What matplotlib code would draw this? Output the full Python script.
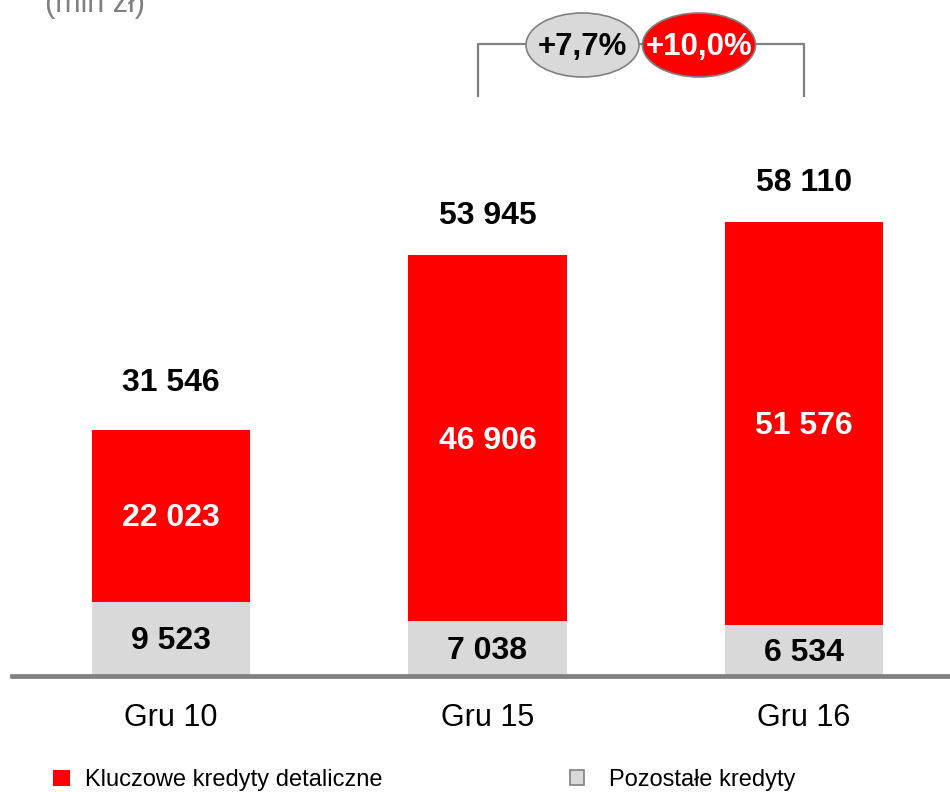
import matplotlib
matplotlib.use("Agg")
import matplotlib.pyplot as plt
from matplotlib.patches import Ellipse, Rectangle

categories = ["Gru 10", "Gru 15", "Gru 16"]
otherLoans = [9523, 7038, 6534]
keyRetailLoans = [22023, 46906, 51576]
totals = [31546, 53945, 58110]
growthLabels = ["+7,7%", "+10,0%"]
legendLabels = ["Kluczowe kredyty detaliczne", "Pozostałe kredyty"]
unitLabel = "(mln zł)"

RED = "#FF0000"
GREY = "#D9D9D9"
LINE_GREY = "#808080"


def fmt(value):
    return "{:,}".format(value).replace(",", " ")


def plotLoans():
    matplotlib.rc("font", family=["Liberation Sans", "DejaVu Sans"])

    fig = plt.figure(figsize=(9.5, 7.92), dpi=100)
    ax = fig.add_axes([0, 116 / 792, 1, 676 / 792])
    ax.set_xlim(-171 / 316.5, (950 - 171) / 316.5)
    ax.set_ylim(0, 676 * 128.1)
    ax.axis("off")

    x = list(range(len(categories)))
    ax.bar(x, otherLoans, width=0.5, color=GREY, zorder=2)
    ax.bar(x, keyRetailLoans, width=0.5, bottom=otherLoans, color=RED, zorder=2)
    ax.axhline(0, xmin=12 / 950, xmax=1, color=LINE_GREY, linewidth=3.4,
               zorder=3, clip_on=False)

    # total labels sit a bit higher over the first bar
    totalOffsets = [34, 28, 28]

    for i in x:
        ax.annotate(fmt(otherLoans[i]), xy=(i, otherLoans[i] / 2), xytext=(0, -1.5),
                    textcoords="offset points", ha="center", va="center",
                    fontsize=23, fontweight="bold", color="black", zorder=4)
        ax.annotate(fmt(keyRetailLoans[i]), xy=(i, otherLoans[i] + keyRetailLoans[i] / 2),
                    xytext=(0, -2), textcoords="offset points", ha="center",
                    va="center", fontsize=23, fontweight="bold", color="white",
                    zorder=4)
        ax.annotate(fmt(totals[i]), xy=(i, totals[i]), xytext=(0, totalOffsets[i]),
                    textcoords="offset points", ha="center", va="center",
                    fontsize=23, fontweight="bold", color="black")
        ax.annotate(categories[i], xy=(i, 0), xytext=(0, -30),
                    textcoords="offset points", ha="center", va="center",
                    fontsize=22, color="black", annotation_clip=False)

    # growth bracket
    yTop = (676 - 44) * 128.1
    yLow = (676 - 96) * 128.1
    xLeft = 1 - 10 / 316.5
    xRight = 2
    ax.plot([xLeft, xLeft, xRight, xRight], [yLow, yTop, yTop, yLow],
            color=LINE_GREY, linewidth=1.6, zorder=1)
    mid = (xLeft + xRight) / 2
    ellW = 113 / 316.5
    ellH = 64 * 128.1
    yEll = (676 - 45) * 128.1
    for offset, face, txtColor, label in [(-0.184, GREY, "black", growthLabels[0]),
                                          (0.184, RED, "white", growthLabels[1])]:
        ax.add_patch(Ellipse((mid + offset, yEll), ellW, ellH, facecolor=face,
                             edgecolor=LINE_GREY, linewidth=1.2, zorder=5))
        ax.annotate(label, xy=(mid + offset, yEll), xytext=(0, -1.5),
                    textcoords="offset points", ha="center", va="center",
                    fontsize=22.5, fontweight="bold", color=txtColor, zorder=6)

    # unit label (cut at the top)
    fig.text(45 / 950, (792 - 12) / 792, unitLabel, ha="left", va="baseline",
             fontsize=22, color=LINE_GREY)

    # legend
    fig.add_artist(Rectangle((53 / 950, 6 / 792), 17 / 950, 16 / 792,
                             transform=fig.transFigure, facecolor=RED, edgecolor="none"))
    fig.text(85 / 950, 12 / 792, legendLabels[0], ha="left", va="center", fontsize=17)
    fig.add_artist(Rectangle((570 / 950, 7 / 792), 14 / 950, 15 / 792,
                             transform=fig.transFigure, facecolor=GREY,
                             edgecolor=LINE_GREY, linewidth=1.2))
    fig.text(609 / 950, 12 / 792, legendLabels[1], ha="left", va="center", fontsize=17)

    fig.savefig("out.png", dpi=100)


plotLoans()
